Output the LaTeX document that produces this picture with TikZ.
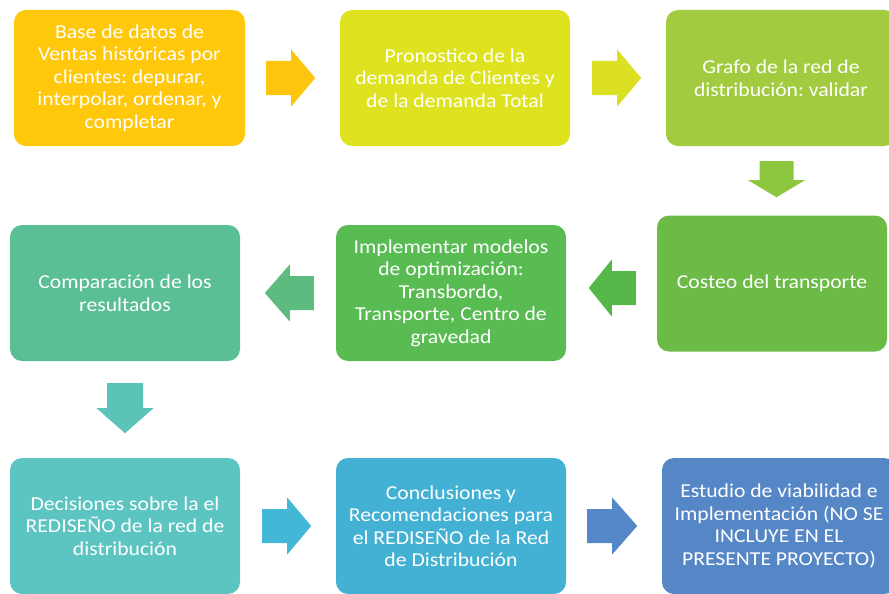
\documentclass[tikz,border=0pt]{standalone}
\usepackage{fontspec}
\setmainfont{Carlito}[FakeStretch=1.1]
\frenchspacing
\usetikzlibrary{calc}
\definecolor{cbA}{HTML}{FFC80A}
\definecolor{caA}{HTML}{FEC50E}
\definecolor{cbB}{HTML}{DEE21F}
\definecolor{caB}{HTML}{DBE023}
\definecolor{cbC}{HTML}{A2CB3F}
\definecolor{caC}{HTML}{8DC63F}
\definecolor{cbF}{HTML}{6CBB47}
\definecolor{caD}{HTML}{55B748}
\definecolor{cbE}{HTML}{58BC53}
\definecolor{caE}{HTML}{5DBB7F}
\definecolor{cbD}{HTML}{5BBF95}
\definecolor{caF}{HTML}{5BC3B7}
\definecolor{cbG}{HTML}{5CC4C1}
\definecolor{caG}{HTML}{44B6D6}
\definecolor{cbH}{HTML}{43B1D4}
\definecolor{caH}{HTML}{5488C8}
\definecolor{cbI}{HTML}{5586C6}
\tikzset{
  stepbox/.style={rounded corners=12pt, minimum width=230pt, minimum height=136pt,
    inner sep=0pt, text=white, align=center,
    font=\fontsize{19.7}{22.5}\selectfont},
}
% #1 colour, #2 origin (back centre), #3 rotation, #4 length, #5 head length, #6 shaft half width
\newcommand{\blockarrow}[6]{%
  \begin{scope}[shift={#2}, rotate=#3]
    \fill[#1] (0,-#6) -- ({#4-#5},-#6) -- ({#4-#5},-28.5) -- (#4,0)
      -- ({#4-#5},28.5) -- ({#4-#5},#6) -- (0,#6) -- cycle;
  \end{scope}}
\begin{document}
\begin{tikzpicture}[x=1pt,y=-1pt]
\useasboundingbox (0,0) rectangle (889,594);
\node[stepbox, fill=cbA, minimum width=231pt] (b1) at (129.5,78)
  {Base de datos de\\Ventas históricas por\\clientes: depurar,\\interpolar, ordenar, y\\completar};
\node[stepbox, fill=cbB] (b2) at (455,78)
  {Pronostico de la\\demanda de Clientes y\\de la demanda Total};
\node[stepbox, fill=cbC] (b3) at (781,78)
  {Grafo de la red de\\distribución: validar};
\node[stepbox, fill=cbF] (b6) at (772,283.5)
  {Costeo del transporte};
\node[stepbox, fill=cbE] (b5) at (451,293)
  {Implementar modelos\\de optimización:\\Transbordo,\\Transporte, Centro de\\gravedad};
\node[stepbox, fill=cbD] (b4) at (125,293)
  {Comparación de los\\resultados};
\node[stepbox, fill=cbG] (b7) at (125,526)
  {Decisiones sobre la el\\REDISEÑO de la red de\\distribución};
\node[stepbox, fill=cbH] (b8) at (451,526)
  {Conclusiones y\\Recomendaciones para\\el REDISEÑO de la Red\\de Distribución};
\node[stepbox, fill=cbI, minimum width=234pt] (b9) at (779,526)
  {Estudio de viabilidad e\\Implementación (NO SE\\INCLUYE EN EL\\PRESENTE PROYECTO)};
\blockarrow{caA}{($(b1.east)+(21,0)$)}{0}{49}{24}{17}
\blockarrow{caB}{($(b2.east)+(22,0)$)}{0}{49}{24}{17}
\blockarrow{caC}{($(b3.south)+(-4.5,15)$)}{-90}{36}{17}{17}
\blockarrow{caD}{($(b6.west)+(-21,4.5)$)}{180}{47}{23}{17}
\blockarrow{caE}{($(b5.west)+(-22,0)$)}{180}{49}{25}{17}
\blockarrow{caF}{($(b4.south)+(0,22)$)}{-90}{50}{25}{18}
\blockarrow{caG}{($(b7.east)+(22,0)$)}{0}{49}{24}{17}
\blockarrow{caH}{($(b8.east)+(21,0)$)}{0}{50}{25}{17}
\end{tikzpicture}
\end{document}
